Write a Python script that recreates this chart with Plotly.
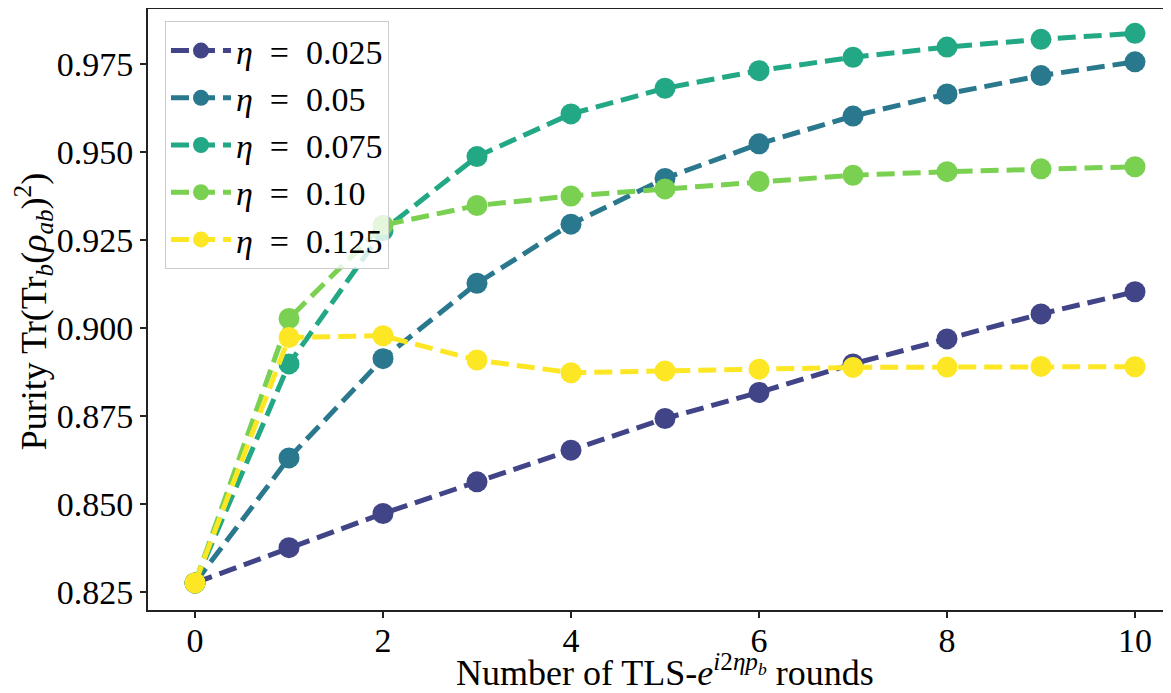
import plotly.graph_objects as go

rounds = [0, 1, 2, 3, 4, 5, 6, 7, 8, 9, 10]

purity_eta_0025 = [0.8277, 0.8377, 0.8474, 0.8564, 0.8654, 0.8744, 0.8818, 0.8899, 0.8970, 0.9041, 0.9104]
purity_eta_005 = [0.8277, 0.8632, 0.8914, 0.9128, 0.9296, 0.9426, 0.9524, 0.9603, 0.9666, 0.9718, 0.9757]
purity_eta_0075 = [0.8277, 0.8899, 0.9278, 0.9488, 0.9609, 0.9682, 0.9732, 0.9770, 0.9799, 0.9821, 0.9838]
purity_eta_010 = [0.8277, 0.9028, 0.9293, 0.9349, 0.9376, 0.9396, 0.9417, 0.9435, 0.9445, 0.9453, 0.9459]
purity_eta_0125 = [0.8277, 0.8974, 0.8979, 0.8910, 0.8874, 0.8879, 0.8884, 0.8889, 0.8890, 0.8892, 0.8891]

series_labels = ["0.025", "0.05", "0.075", "0.10", "0.125"]
series_values = [purity_eta_0025, purity_eta_005, purity_eta_0075, purity_eta_010, purity_eta_0125]
series_colors = ["#414487", "#2A788E", "#22A884", "#7AD151", "#FDE725"]

y_ticks = [0.825, 0.850, 0.875, 0.900, 0.925, 0.950, 0.975]
x_ticks = [0, 2, 4, 6, 8, 10]

x_title = "Number of TLS-<i>e</i><sup><i>i</i>2<i>ηp</i><sub><i>b</i></sub></sup> rounds"
y_title = "Purity Tr(Tr<sub><i>b</i></sub>(<i>ρ</i><sub><i>ab</i></sub>)<sup>2</sup>)"

FONT = "Liberation Serif, Times New Roman, serif"

fig = go.Figure()
for label, vals, col in zip(series_labels, series_values, series_colors):
    fig.add_trace(go.Scatter(
        x=rounds, y=vals, mode="lines+markers",
        name=f"<i>η</i>  =  {label}",
        line=dict(color=col, width=5, dash="18px,8px"),
        marker=dict(color=col, size=21, line=dict(width=0)),
    ))

# page body has an 8px margin: the figure is sized/placed to compensate
fig.update_layout(
    width=1163, height=685,
    margin=dict(l=140, r=0, t=1, b=83),
    paper_bgcolor="white", plot_bgcolor="white",
    font=dict(family=FONT, size=34, color="black"),
    showlegend=True,
    legend=dict(
        x=0.0166, y=0.98, xanchor="left", yanchor="top",
        bgcolor="rgba(255,255,255,0.8)", bordercolor="#cccccc", borderwidth=1,
        font=dict(family=FONT, size=34, color="black"),
        itemwidth=60,
    ),
    annotations=[
        dict(text=x_title, xref="paper", yref="paper", x=0.505, y=-0.101,
             xanchor="center", yanchor="middle", showarrow=False,
             font=dict(family=FONT, size=36, color="black")),
        dict(text=y_title, xref="paper", yref="paper", x=-0.1115, y=0.497,
             xanchor="center", yanchor="middle", showarrow=False, textangle=-90,
             font=dict(family=FONT, size=36, color="black")),
    ],
)

fig.update_xaxes(
    range=[-0.5, 10.383], automargin=False,
    tickvals=x_ticks, ticktext=[str(v) for v in x_ticks],
    showgrid=False, zeroline=False,
    showline=True, linecolor="#222222", linewidth=2, mirror=True,
    ticks="outside", ticklen=6, tickwidth=1.5, tickcolor="#222222",
    tickfont=dict(family=FONT, size=34), ticklabelstandoff=-7,
)

fig.update_yaxes(
    range=[0.8200, 0.99071], automargin=False,
    tickvals=y_ticks, ticktext=[f"{v:.3f}" for v in y_ticks],
    showgrid=False, zeroline=False,
    showline=True, linecolor="#222222", linewidth=2,
    ticks="outside", ticklen=6, tickwidth=1.5, tickcolor="#222222",
    tickfont=dict(family=FONT, size=34),
)

fig.write_html("out.html")
